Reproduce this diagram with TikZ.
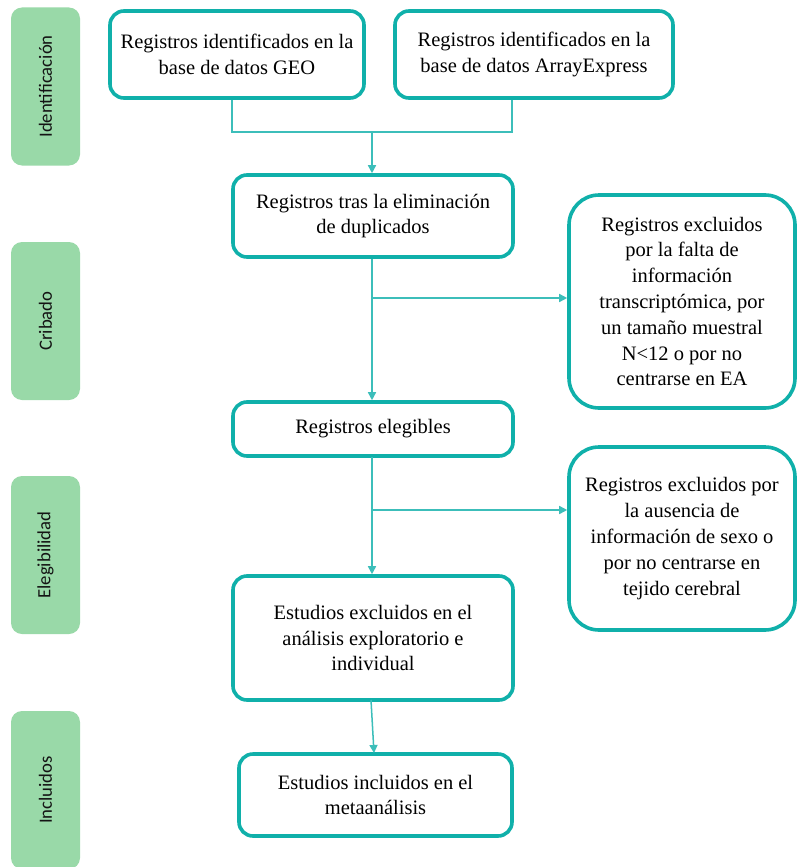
\documentclass[tikz,border=0pt]{standalone}
\usepackage{fontspec}
\setmainfont{Liberation Serif}
\newfontfamily\lblfont{Carlito}
\usetikzlibrary{arrows.meta,calc}
\definecolor{teal1}{RGB}{16,176,170}
\definecolor{teal2}{RGB}{60,190,186}
\definecolor{grn}{RGB}{153,217,168}
\definecolor{lbltxt}{RGB}{20,20,20}
\tikzset{
  box/.style={draw=teal1, line width=3.6pt, rounded corners=14pt, fill=white,
    align=center, font=\fontsize{20.5}{25.8}\selectfont, inner sep=0pt},
  sidebox/.style={box, rounded corners=30pt},
  phase/.style={fill=grn, rounded corners=11pt, minimum width=69pt, minimum height=158pt,
    inner sep=0pt},
  phaselbl/.style={rotate=90, font=\lblfont\fontsize{18.7}{20}\selectfont, text=lbltxt},
  conn/.style={draw=teal2, line width=1.5pt},
  arr/.style={conn, -{Triangle[width=8pt,length=8pt]}},
}
\begin{document}
\begin{tikzpicture}[x=1pt,y=-1pt]
\clip (0,0) rectangle (798,867);
\fill[white] (0,0) rectangle (798,867);
% phases
\node[phase] (p1) at (45.5,86.5) {};
\node[phaselbl] (p1t) at (p1) {Identificación};
\node[phase] (p2) at (45.5,321) {};
\node[phaselbl] (p2t) at (p2) {Cribado};
\node[phase] (p3) at (45.5,555) {};
\node[phaselbl] (p3t) at (p3) {Elegibilidad};
\node[phase] (p4) at (45.5,790) {};
\node[phaselbl] (p4t) at (p4) {Incluidos};
% boxes
\node[box, minimum width=254pt, minimum height=87pt] (geo) at (237,54.5)
  {Registros identificados en la\\base de datos GEO};
\node[box, minimum width=278pt, minimum height=87pt] (ae) at (534,54.5)
  {Registros identificados en la\\base de datos ArrayExpress};
\node[box, minimum width=280pt, minimum height=82pt] (dup) at (373,216)
  {Registros tras la eliminación\\de duplicados};
\node[sidebox, minimum width=226pt, minimum height=213pt] (ex1) at (682,301.5)
  {Registros excluidos\\por la falta de\\información\\transcriptómica, por\\un tamaño muestral\\N<12 o por no\\centrarse en EA};
\node[box, minimum width=280pt, minimum height=54pt] (eleg) at (373,429)
  {Registros elegibles};
\node[sidebox, minimum width=226pt, minimum height=183pt] (ex2) at (682,538.5)
  {Registros excluidos por\\la ausencia de\\información de sexo o\\por no centrarse en\\tejido cerebral};
\node[box, minimum width=280pt, minimum height=124pt] (excl) at (373,638)
  {Estudios excluidos en el\\análisis exploratorio e\\individual};
\node[box, minimum width=273pt, minimum height=82pt] (incl) at (375.5,795)
  {Estudios incluidos en el\\metaanálisis};
% connectors
\coordinate (g1) at ($(geo.south)+(-5,0)$);
\coordinate (a1) at ($(ae.south)+(-22,0)$);
\coordinate (j1) at (372,132);
\draw[conn] (g1) |- (j1) -| (a1);
\draw[arr] (j1) -- (j1 |- dup.north);
\coordinate (d1) at (372,259);
\coordinate (b1) at (372,298);
\draw[arr] (d1) -- (d1 |- eleg.north);
\draw[arr] (b1) -- (b1 -| ex1.west);
\coordinate (e1) at (372,457);
\coordinate (b2) at (372,510);
\draw[arr] (e1) -- (e1 |- excl.north);
\draw[arr] (b2) -- (b2 -| ex2.west);
\coordinate (x1) at (371,700);
\draw[arr] (x1) -- (374,753);
\end{tikzpicture}
\end{document}
